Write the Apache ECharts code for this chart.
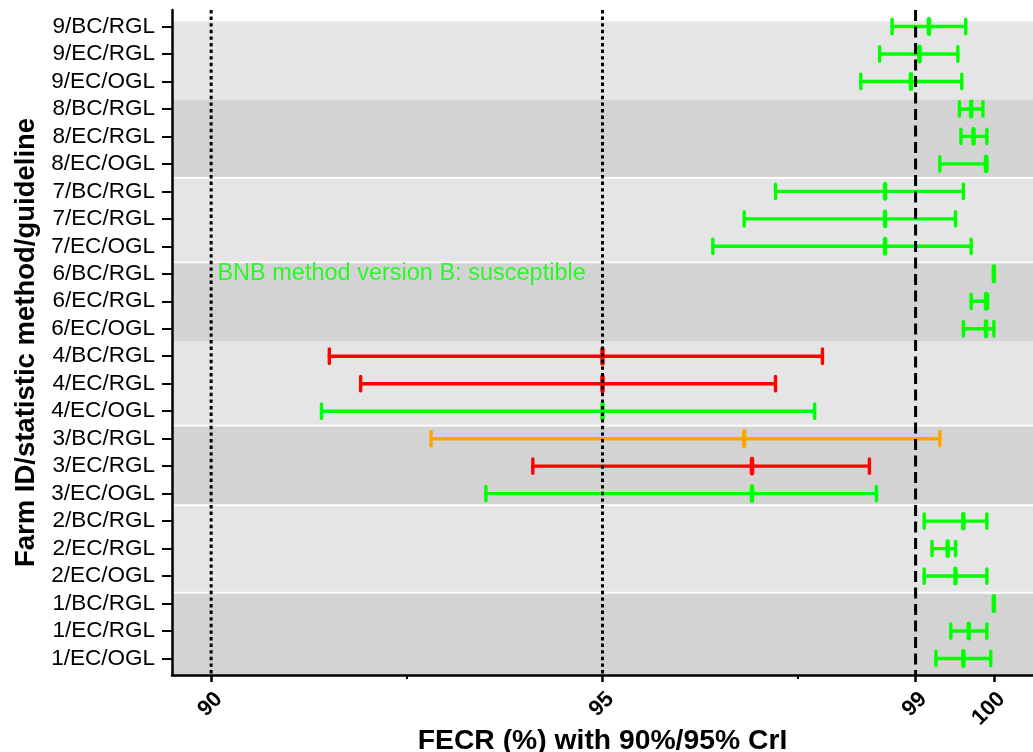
<!DOCTYPE html>
<html>
<head>
<meta charset="utf-8">
<script src="https://cdn.jsdelivr.net/npm/echarts@6/dist/echarts.min.js"></script>
<style>html,body{margin:0;padding:0;background:#fff;}#c{width:1033px;height:752px;}</style>
</head>
<body>
<div id="c"></div>
<script>
// Categories bottom -> top
const categories = ['1/EC/OGL','1/EC/RGL','1/BC/RGL','2/EC/OGL','2/EC/RGL','2/BC/RGL',
  '3/EC/OGL','3/EC/RGL','3/BC/RGL','4/EC/OGL','4/EC/RGL','4/BC/RGL',
  '6/EC/OGL','6/EC/RGL','6/BC/RGL','7/EC/OGL','7/EC/RGL','7/BC/RGL',
  '8/EC/OGL','8/EC/RGL','8/BC/RGL','9/EC/OGL','9/EC/RGL','9/BC/RGL'];
const lower  = [99.26,99.45,100, 99.11,99.21,99.11, 93.51,94.11,92.81, 91.41,91.91,91.51,
  99.61,99.71,100, 96.41,96.81,97.21, 99.31,99.58,99.56, 98.30,98.54,98.70];
const median = [99.61,99.68,100, 99.51,99.41,99.61, 96.91,96.91,96.81, 95.00,95.00,95.00,
  99.90,99.90,100, 98.61,98.61,98.61, 99.90,99.74,99.71, 98.94,99.05,99.17];
const upper  = [99.96,99.91,100, 99.91,99.51,99.91, 98.50,98.41,99.31, 97.71,97.21,97.81,
  100.0,99.92,100, 99.71,99.51,99.61, 99.91,99.91,99.86, 99.59,99.54,99.64];
const status = ['S','S','S','S','S','S','S','R','LR','S','R','R',
  'S','S','S','S','S','S','S','S','S','S','S','S'];
const statusColors = {S:'#00ff00', R:'#ff0000', LR:'#ffa500'};

// Farm background bands (in row units)
const bandLow  = [-0.6, 2.43, 5.61, 8.51, 11.54, 14.45, 17.52, 20.35];
const bandHigh = [2.36, 5.54, 8.44, 11.54, 14.38, 17.46, 20.35, 23.18];
const bandShade = ['#d3d3d3','#e5e5e5','#d3d3d3','#e5e5e5','#d3d3d3','#e5e5e5','#d3d3d3','#e5e5e5'];

// Reference lines
const refValues = [90, 95, 99];
const refTypes = ['dotted','dotted','dashed'];

const xMajorTicks = [90, 95, 99, 100];
const xMinorTicks = [92.5, 97.5];
const xMin = 89.5, xMax = 100.5;
const yMin = -0.6, yMax = 23.6;

const annotationText = 'BNB method version B: susceptible';
const annotationX = 90.08;
const annotationRow = categories.indexOf('6/BC/RGL');

const FONT = 'Liberation Sans';
const rowIdx = categories.map((c, i) => i);

const chart = echarts.init(document.getElementById('c'), null, {renderer: 'canvas'});
chart.setOption({
  animation: false,
  backgroundColor: '#ffffff',
  grid: {left: 172, right: 0, top: 10, bottom: 77, containLabel: false, outerBoundsMode: 'none'},
  xAxis: [{
    type: 'value', min: xMin, max: xMax, position: 'bottom', offset: 0, z: 10,
    name: 'FECR (%) with 90%/95% CrI', nameLocation: 'middle', nameGap: 52,
    nameMoveOverlap: false,
    nameTextStyle: {fontFamily: FONT, fontWeight: 'bold', fontSize: 28.3, color: '#000'},
    axisLine: {show: true, onZero: false, lineStyle: {color: '#000', width: 2.5}},
    axisTick: {show: true, customValues: xMajorTicks, length: 7, lineStyle: {color: '#000', width: 2.5}},
    axisLabel: {show: true, customValues: xMajorTicks, rotate: 45, margin: 13,
      verticalAlign: 'top',
      fontFamily: FONT, fontWeight: 'bold', fontSize: 22, color: '#000'},
    splitLine: {show: false}
  }, {
    type: 'value', min: xMin, max: xMax, position: 'bottom', offset: 0, z: 10,
    axisLine: {show: false, onZero: false},
    axisTick: {show: true, customValues: xMinorTicks, length: 4, lineStyle: {color: '#000', width: 2}},
    axisLabel: {show: false},
    splitLine: {show: false}
  }],
  yAxis: {
    type: 'value', min: yMin, max: yMax, z: 10,
    name: 'Farm ID/statistic method/guideline', nameLocation: 'middle', nameGap: 132,
    nameMoveOverlap: false,
    nameTextStyle: {fontFamily: FONT, fontWeight: 'bold', fontSize: 27.5, color: '#000'},
    axisLine: {show: true, onZero: false, lineStyle: {color: '#000', width: 2.5}},
    axisTick: {show: true, customValues: rowIdx, length: 10, lineStyle: {color: '#000', width: 2}},
    axisLabel: {show: true, customValues: rowIdx, margin: 17,
      formatter: v => categories[Math.round(v)],
      fontFamily: FONT, fontSize: 22.5, color: '#000'},
    splitLine: {show: false}
  },
  series: [{
    type: 'custom', name: 'bands', z: 1, silent: true,
    data: bandLow.map((lo, i) => [xMin, lo, i]),
    encode: {x: 0, y: 1},
    renderItem: function (params, api) {
      const i = params.dataIndex;
      const cs = params.coordSys;
      const yTop = api.coord([xMin, bandHigh[i]])[1];
      const yBot = api.coord([xMin, bandLow[i]])[1];
      return {type: 'rect', shape: {x: cs.x, y: yTop, width: cs.width, height: yBot - yTop},
        style: {fill: bandShade[i]}};
    }
  }, {
    type: 'custom', name: 'errorbars', z: 3, silent: true,
    data: categories.map((c, i) => [lower[i], median[i], upper[i], i]),
    encode: {x: [0, 1, 2], y: 3},
    renderItem: function (params, api) {
      const i = params.dataIndex;
      const row = api.value(3);
      const pLo = api.coord([api.value(0), row]);
      const pMid = api.coord([api.value(1), row]);
      const pHi = api.coord([api.value(2), row]);
      const h = 7.2;
      const color = statusColors[status[i]];
      const st = {stroke: color, lineWidth: 3.4, lineCap: 'round', fill: null};
      return {type: 'group', children: [
        {type: 'line', shape: {x1: pLo[0], y1: pLo[1], x2: pHi[0], y2: pHi[1]}, style: st},
        {type: 'line', shape: {x1: pLo[0], y1: pLo[1] - h, x2: pLo[0], y2: pLo[1] + h}, style: st},
        {type: 'line', shape: {x1: pHi[0], y1: pHi[1] - h, x2: pHi[0], y2: pHi[1] + h}, style: st},
        {type: 'line', shape: {x1: pMid[0], y1: pMid[1] - h, x2: pMid[0], y2: pMid[1] + h},
          style: {stroke: color, lineWidth: 4.5, lineCap: 'round'}}
      ]};
    }
  }, {
    type: 'custom', name: 'reflines', z: 4, silent: true,
    data: refValues.map((v, i) => [v, 0, i]),
    encode: {x: 0, y: 1},
    renderItem: function (params, api) {
      const i = params.dataIndex;
      const cs = params.coordSys;
      const x = api.coord([api.value(0), 0])[0];
      const dash = refTypes[i] === 'dashed' ? [11, 5.5] : [3.4, 3.2];
      return {type: 'line', shape: {x1: x, y1: cs.y, x2: x, y2: cs.y + cs.height},
        style: {stroke: '#000', lineWidth: 3, lineDash: dash}};
    }
  }, {
    type: 'scatter', name: 'annotation', z: 5, silent: true,
    symbolSize: 0,
    data: [[annotationX, annotationRow]],
    label: {show: true, position: 'right', distance: 0, formatter: annotationText,
      fontFamily: FONT, fontSize: 23.5, color: '#00ff00'}
  }]
});
</script>
</body>
</html>
